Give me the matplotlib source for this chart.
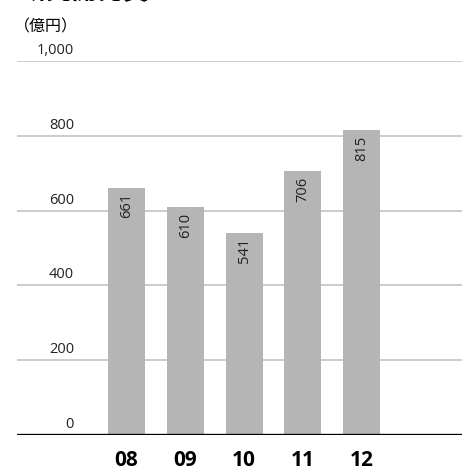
import matplotlib
matplotlib.use("Agg")
import matplotlib.pyplot as plt

plt.rcParams['font.family'] = ['Open Sans', 'Noto Sans CJK JP', 'DejaVu Sans']

# R&D expenses by fiscal year (100 million yen)
years = ['08', '09', '10', '11', '12']
rd_cost = [661, 610, 541, 706, 815]
y_ticks = [0, 200, 400, 600, 800, 1000]
y_tick_labels = ['0', '200', '400', '600', '800', '1,000']

fig = plt.figure(figsize=(4.62, 4.66), dpi=100)
ax = fig.add_axes([17 / 462, 31 / 466, 445 / 462, 374 / 466])

x = list(range(len(years)))
ax.bar(x, rd_cost, width=0.63, color='#b5b5b5', zorder=2)

# horizontal gridlines with labels sitting just above them
for v, lab in zip(y_ticks, y_tick_labels):
    if v > 0:
        ax.axhline(v, color='#c4c4c4', lw=1.2, zorder=1)
    ax.annotate(lab, xy=(0.128, v), xycoords=ax.get_yaxis_transform(),
                xytext=(0, 5), textcoords='offset points',
                ha='right', va='baseline', fontsize=10.5, color='#222222')
ax.axhline(0, color='black', lw=2.4, zorder=3)

# values written inside the top of each bar
for xi, v in zip(x, rd_cost):
    ax.annotate(str(v), xy=(xi, v), xytext=(0, -4), textcoords='offset points',
                rotation=90, ha='center', va='top', fontsize=10.5, color='#222222')

ax.set_xlim(-1.864, 5.71)
ax.set_ylim(0, 1000)
ax.set_xticks(x)
ax.set_xticklabels(years, fontsize=15, fontweight='bold')
ax.tick_params(axis='x', length=0, pad=10.5)
ax.set_yticks([])
for s in ax.spines.values():
    s.set_visible(False)

fig.text(20 / 462, 1 - 5 / 466, '研究開発費', fontsize=18.5, fontweight='bold',
         family=['Noto Sans CJK JP'], ha='left', va='bottom')
fig.text(14 / 462, 1 - 35 / 466, '（億円）', fontsize=11.5,
         family=['Noto Sans CJK JP'], ha='left', va='bottom')

fig.savefig('out.png', dpi=100)
